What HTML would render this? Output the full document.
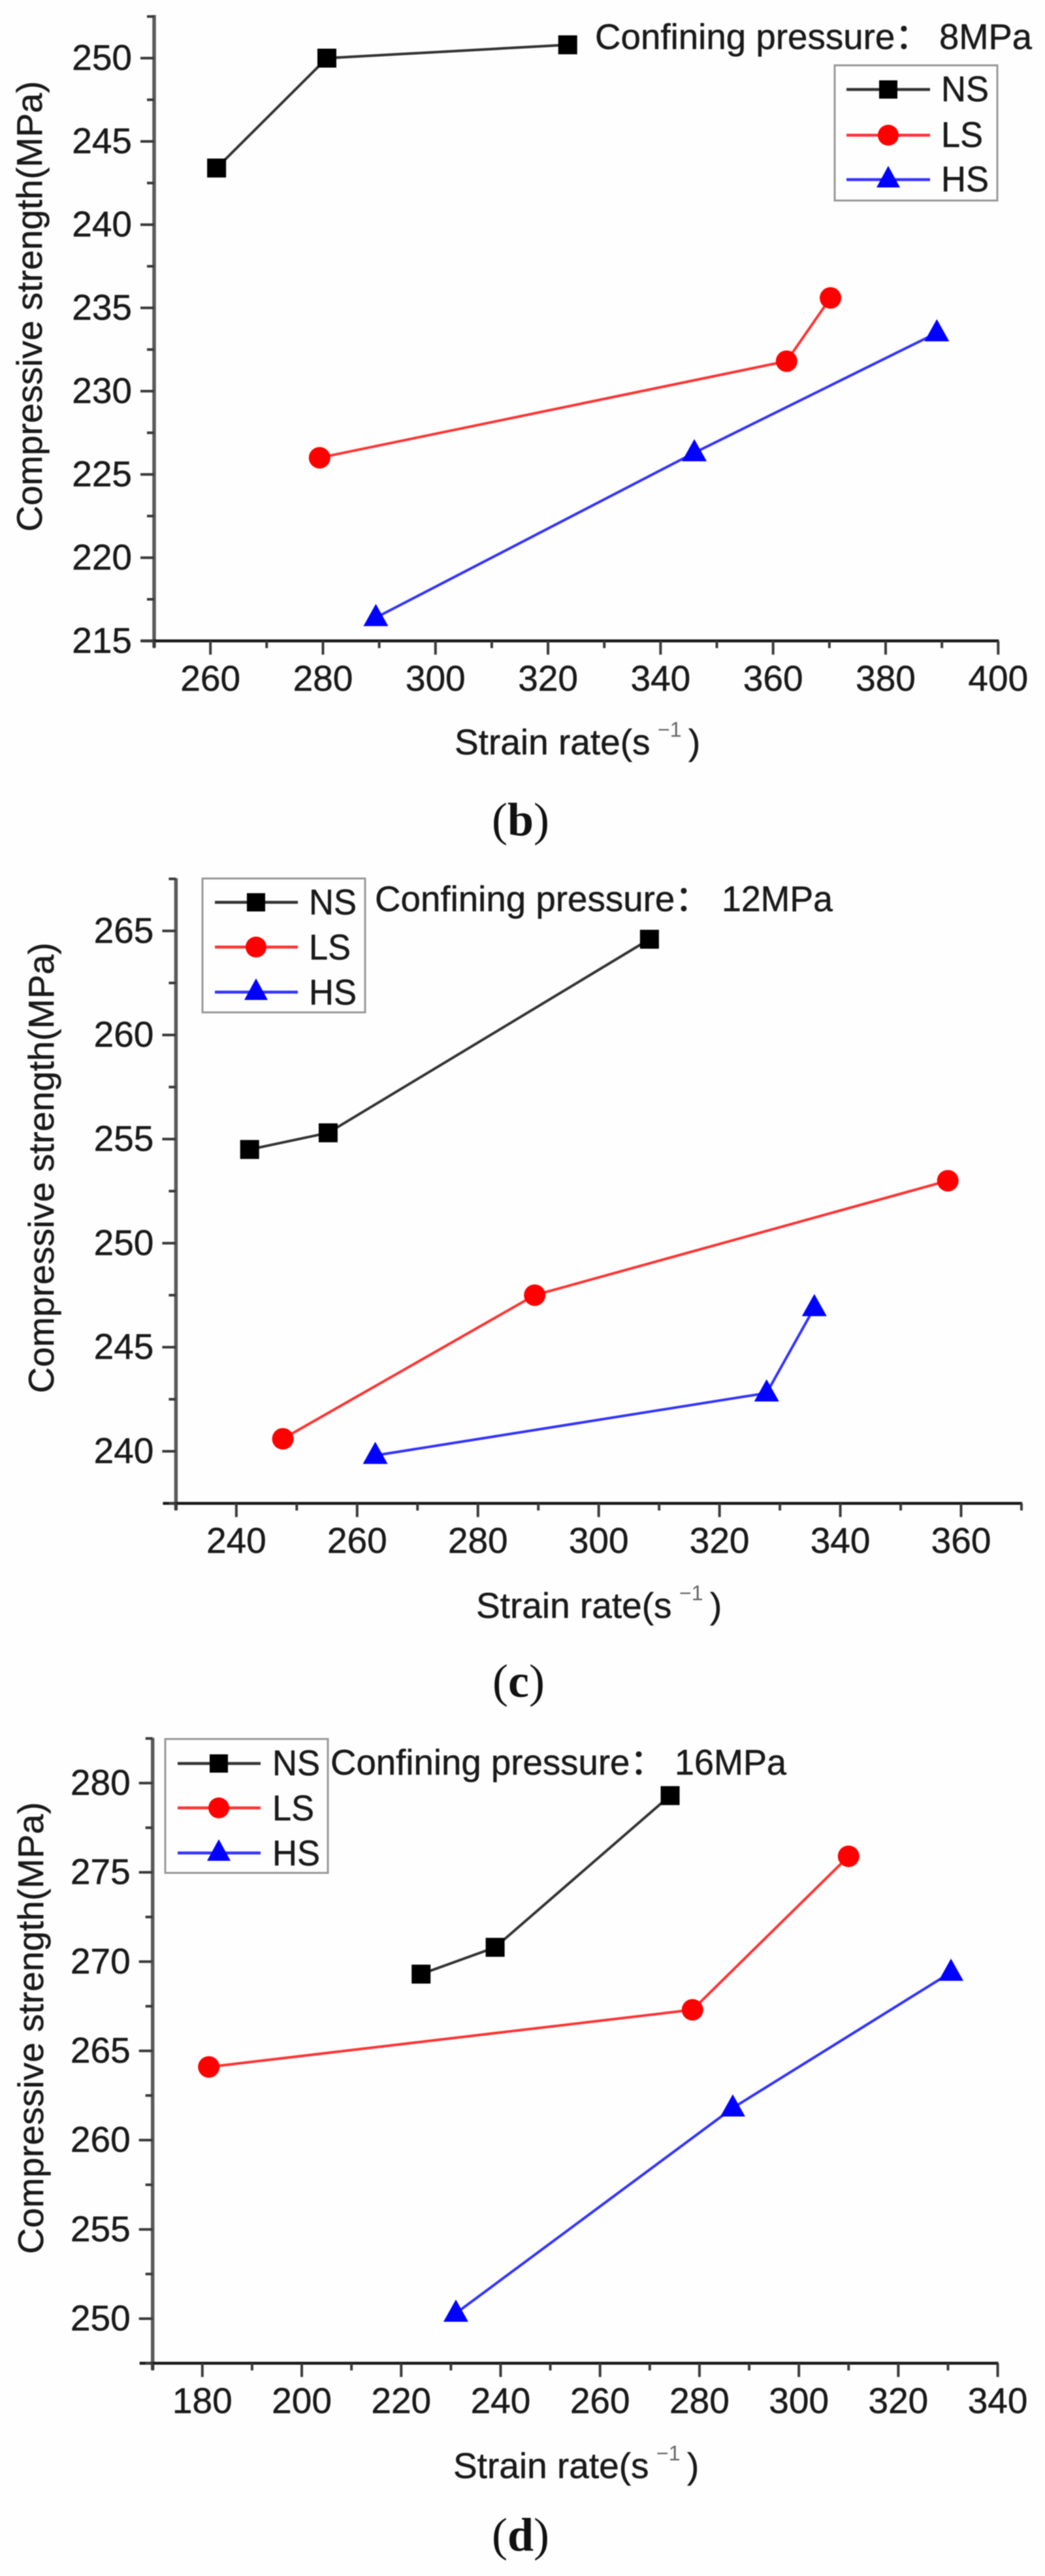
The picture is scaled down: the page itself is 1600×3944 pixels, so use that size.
<!DOCTYPE html>
<html lang="en">
<head>
<meta charset="utf-8">
<title>Compressive strength vs strain rate</title>
<style>
html,body{margin:0;padding:0;background:#fff}
#figure{display:block;width:1600px;height:3944px;filter:blur(0.8px)}
text{font-family:"Liberation Sans","Noto Sans CJK SC",sans-serif;font-size:55px;fill:#1a1a1a;stroke:#1a1a1a;stroke-width:0.5px}
.cap{font-family:"Liberation Serif",serif;font-size:72px;fill:#111;stroke-width:0}
</style>
</head>
<body>
<svg id="figure" xmlns="http://www.w3.org/2000/svg" width="1600" height="3944" viewBox="0 0 1600 3944">
<rect x="0" y="0" width="1600" height="3944" fill="#fefefe"/>

<g id="panel-b">
  <text transform="translate(64 469) rotate(-90)" text-anchor="middle" textLength="690">Compressive strength(MPa)</text>
  <text x="696" y="1155">Strain rate(s<tspan x="1007" dy="-27" font-size="32" style="font-size:32px;fill:#666;stroke-width:0">−1</tspan><tspan x="1054" dy="27">)</tspan></text>
  <text x="911" y="75" textLength="514" lengthAdjust="spacingAndGlyphs">Confining pressure：</text>
  <text x="1438" y="75" textLength="142" lengthAdjust="spacingAndGlyphs">8MPa</text>
  <g transform="translate(1278 100)">
    <rect x="0" y="0" width="249" height="207" fill="#fefefe" stroke="#999" stroke-width="3"/>
    <g><line x1="18" x2="146" y1="37" y2="37" stroke="#333" stroke-width="4.5"/><rect x="68" y="23" width="28" height="28" fill="#000"/><text x="163" y="55" textLength="73" lengthAdjust="spacingAndGlyphs">NS</text></g>
    <g><line x1="18" x2="146" y1="107" y2="107" stroke="#f33" stroke-width="4.5"/><circle cx="82" cy="107" r="16" fill="#f00"/><text x="163" y="125" textLength="64" lengthAdjust="spacingAndGlyphs">LS</text></g>
    <g><line x1="18" x2="146" y1="175" y2="175" stroke="#33f" stroke-width="4.5"/><polygon points="82,154 100,187 64,187" fill="#00f"/><text x="163" y="193" textLength="73" lengthAdjust="spacingAndGlyphs">HS</text></g>
  </g>
  <text class="cap" x="753" y="1279">(<tspan font-weight="bold">b</tspan>)</text>
</g>

<g id="panel-c">
  <text transform="translate(82 1788) rotate(-90)" text-anchor="middle" textLength="690">Compressive strength(MPa)</text>
  <text x="729" y="2477">Strain rate(s<tspan x="1040" dy="-27" font-size="32" style="font-size:32px;fill:#666;stroke-width:0">−1</tspan><tspan x="1087" dy="27">)</tspan></text>
  <text x="574" y="1395" textLength="514" lengthAdjust="spacingAndGlyphs">Confining pressure：</text>
  <text x="1105" y="1395" textLength="170" lengthAdjust="spacingAndGlyphs">12MPa</text>
  <g transform="translate(310 1345)">
    <rect x="0" y="0" width="249" height="205" fill="#fefefe" stroke="#999" stroke-width="3"/>
    <g><line x1="19" x2="146" y1="36.5" y2="36.5" stroke="#333" stroke-width="4.5"/><rect x="68" y="22.5" width="28" height="28" fill="#000"/><text x="163" y="55" textLength="73" lengthAdjust="spacingAndGlyphs">NS</text></g>
    <g><line x1="19" x2="146" y1="105" y2="105" stroke="#f33" stroke-width="4.5"/><circle cx="82" cy="105" r="16" fill="#f00"/><text x="163" y="124" textLength="64" lengthAdjust="spacingAndGlyphs">LS</text></g>
    <g><line x1="19" x2="146" y1="174" y2="174" stroke="#33f" stroke-width="4.5"/><polygon points="82,153 100,186 64,186" fill="#00f"/><text x="163" y="193" textLength="73" lengthAdjust="spacingAndGlyphs">HS</text></g>
  </g>
  <text class="cap" x="754" y="2598">(<tspan font-weight="bold">c</tspan>)</text>
</g>

<g id="panel-d">
  <text transform="translate(66 3105) rotate(-90)" text-anchor="middle" textLength="692">Compressive strength(MPa)</text>
  <text x="694" y="3794">Strain rate(s<tspan x="1005" dy="-27" font-size="32" style="font-size:32px;fill:#666;stroke-width:0">−1</tspan><tspan x="1052" dy="27">)</tspan></text>
  <text x="506" y="2717" textLength="513" lengthAdjust="spacingAndGlyphs">Confining pressure：</text>
  <text x="1033" y="2717" textLength="171" lengthAdjust="spacingAndGlyphs">16MPa</text>
  <g transform="translate(253 2662.5)">
    <rect x="0" y="0" width="249" height="205" fill="#fefefe" stroke="#999" stroke-width="3"/>
    <g><line x1="19" x2="146" y1="37.5" y2="37.5" stroke="#333" stroke-width="4.5"/><rect x="68" y="23.5" width="28" height="28" fill="#000"/><text x="164" y="55.5" textLength="73" lengthAdjust="spacingAndGlyphs">NS</text></g>
    <g><line x1="19" x2="146" y1="105.5" y2="105.5" stroke="#f33" stroke-width="4.5"/><circle cx="82" cy="105.5" r="16" fill="#f00"/><text x="164" y="124.5" textLength="64" lengthAdjust="spacingAndGlyphs">LS</text></g>
    <g><line x1="19" x2="146" y1="174.5" y2="174.5" stroke="#33f" stroke-width="4.5"/><polygon points="82,153.5 100,186.5 64,186.5" fill="#00f"/><text x="164" y="193.5" textLength="73" lengthAdjust="spacingAndGlyphs">HS</text></g>
  </g>
  <text class="cap" x="753" y="3905">(<tspan font-weight="bold">d</tspan>)</text>
</g>
</svg>

<script>
// Panel (b) data: confining pressure 8 MPa
const xTicksB = [260, 280, 300, 320, 340, 360, 380, 400];
const yTicksB = [215, 220, 225, 230, 235, 240, 245, 250];
const nsRateB = [261.1, 280.7, 323.5];
const nsStrengthB = [243.4, 250.0, 250.8];
const lsRateB = [279.4, 362.4, 370.2];
const lsStrengthB = [226.0, 231.8, 235.6];
const hsRateB = [289.4, 346.0, 389.1];
const hsStrengthB = [216.4, 226.3, 233.5];

// Panel (c) data: confining pressure 12 MPa
const xTicksC = [240, 260, 280, 300, 320, 340, 360];
const yTicksC = [240, 245, 250, 255, 260, 265];
const nsRateC = [242.2, 255.2, 308.4];
const nsStrengthC = [254.5, 255.3, 264.6];
const lsRateC = [247.7, 289.4, 357.8];
const lsStrengthC = [240.6, 247.5, 253.0];
const hsRateC = [263.0, 327.8, 335.7];
const hsStrengthC = [239.8, 242.8, 246.9];

// Panel (d) data: confining pressure 16 MPa
const xTicksD = [180, 200, 220, 240, 260, 280, 300, 320, 340];
const yTicksD = [250, 255, 260, 265, 270, 275, 280];
const nsRateD = [224.0, 238.9, 274.1];
const nsStrengthD = [269.3, 270.8, 279.3];
const lsRateD = [181.3, 278.6, 310.0];
const lsStrengthD = [264.1, 267.3, 275.9];
const hsRateD = [231.0, 286.7, 330.6];
const hsStrengthD = [250.3, 261.8, 269.4];

const SVGNS = 'http://www.w3.org/2000/svg';

function make(parent, tag, props) {
  const el = document.createElementNS(SVGNS, tag);
  Object.keys(props).forEach(function (k) { el.setAttribute(k, props[k]); });
  parent.appendChild(el);
  return el;
}

function drawAxes(g, xScale, yScale, xMin, xMax, yMin, yMax, xTicks, yTicks) {
  const x0 = xScale(xMin), x1 = xScale(xMax), y0 = yScale(yMin), y1 = yScale(yMax);

  const yAxis = make(g, 'line', {x1: x0, x2: x0, y1: y1 - 1, y2: y0 + 10, stroke: '#5a5a5a', 'stroke-width': 5.5});
  
  

  const xAxis = make(g, 'line', {x1: x0 - 20, x2: x1 + 1, y1: y0, y2: y0, stroke: '#1a1a1a', 'stroke-width': 4.5});
  
  

  const xStep = xTicks[1] - xTicks[0], yStep = yTicks[1] - yTicks[0];

  for (let v = xTicks[0] - xStep / 2; v <= xMax + 0.001; v += xStep / 2) {
    if (v < xMin) continue;
    const major = xTicks.indexOf(v) >= 0;
    const t = make(g, 'line', {x1: xScale(v), x2: xScale(v), y1: y0, y2: y0 + (major ? 21 : 11), stroke: '#3a3a3a', 'stroke-width': 4});
    
    
  }
  for (let v = yTicks[0] - yStep / 2; v <= yMax + 0.001; v += yStep / 2) {
    if (v < yMin) continue;
    const major = yTicks.indexOf(v) >= 0;
    const t = make(g, 'line', {x1: x0 - (major ? 21 : 11), x2: x0, y1: yScale(v), y2: yScale(v), stroke: '#3a3a3a', 'stroke-width': 4});
    
    
  }
  xTicks.forEach(function (v) {
    const lab = make(g, 'text', {x: xScale(v), y: y0 + 76, 'text-anchor': 'middle'});
    lab.textContent = String(v);
    
    
  });
  yTicks.forEach(function (v) {
    const lab = make(g, 'text', {x: x0 - 34, y: yScale(v) + 18, 'text-anchor': 'end'});
    lab.textContent = String(v);
    
    
  });
}

function drawSeries(g, key, lineColor, markerColor, xs, ys, xScale, yScale) {
  const pts = xs.map(function (v, i) { return xScale(v) + ',' + yScale(ys[i]); }).join(' ');
  const line = make(g, 'polyline', {points: pts, fill: 'none', stroke: lineColor, 'stroke-width': 4});
  
  

  xs.forEach(function (v, i) {
    const cx = xScale(v), cy = yScale(ys[i]);
    let m;
    if (key === 'ns') {
      m = make(g, 'rect', {x: cx - 14.5, y: cy - 14.5, width: 29, height: 29, fill: markerColor});
    } else if (key === 'ls') {
      m = make(g, 'circle', {cx: cx, cy: cy, r: 16.5, fill: markerColor});
    } else {
      m = make(g, 'polygon', {points: cx + ',' + (cy - 21) + ' ' + (cx + 19) + ',' + (cy + 13) + ' ' + (cx - 19) + ',' + (cy + 13), fill: markerColor});
    }
    
    
  });
}

function drawPanel(id, frame, xTicks, yTicks, ns, ls, hs) {
  const g = document.getElementById(id);
  const xScale = function (v) { return frame.left + (v - frame.xMin) / (frame.xMax - frame.xMin) * (frame.right - frame.left); };
  const yScale = function (v) { return frame.bottom - (v - frame.yMin) / (frame.yMax - frame.yMin) * (frame.bottom - frame.top); };
  drawAxes(g, xScale, yScale, frame.xMin, frame.xMax, frame.yMin, frame.yMax, xTicks, yTicks);
  drawSeries(g, 'ns', '#333', '#000', ns[0], ns[1], xScale, yScale);
  drawSeries(g, 'ls', '#f33', '#f00', ls[0], ls[1], xScale, yScale);
  drawSeries(g, 'hs', '#33f', '#00f', hs[0], hs[1], xScale, yScale);
}

drawPanel('panel-b', {left: 236, right: 1528.3, top: 24, bottom: 981.3, xMin: 250, xMax: 400, yMin: 215, yMax: 252.55},
  xTicksB, yTicksB, [nsRateB, nsStrengthB], [lsRateB, lsStrengthB], [hsRateB, hsStrengthB]);
drawPanel('panel-c', {left: 269.4, right: 1564, top: 1345.6, bottom: 2301.7, xMin: 230, xMax: 370, yMin: 237.5, yMax: 267.5},
  xTicksC, yTicksC, [nsRateC, nsStrengthC], [lsRateC, lsStrengthC], [hsRateC, hsStrengthC]);
drawPanel('panel-d', {left: 233.7, right: 1527.6, top: 2661.7, bottom: 3618.3, xMin: 170, xMax: 340, yMin: 247.5, yMax: 282.5},
  xTicksD, yTicksD, [nsRateD, nsStrengthD], [lsRateD, lsStrengthD], [hsRateD, hsStrengthD]);
</script>
</body>
</html>
